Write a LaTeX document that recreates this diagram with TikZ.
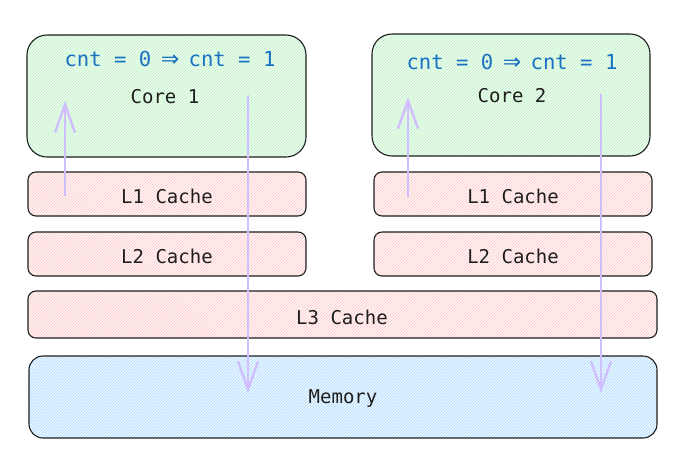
\documentclass[tikz,border=0pt]{standalone}
\usepackage{fontspec}
\setmonofont{DejaVu Sans Mono}
\newfontfamily\arrowfont{DejaVu Sans}
\usetikzlibrary{patterns,arrows.meta}
\definecolor{strokec}{HTML}{1E1E1E}
\definecolor{greenf}{HTML}{F1FCF3}
\definecolor{greenh}{HTML}{B2F2BB}
\definecolor{redf}{HTML}{FFF5F5}
\definecolor{redh}{HTML}{FFC9C9}
\definecolor{bluef}{HTML}{F0F8FF}
\definecolor{blueh}{HTML}{A5D8FF}
\definecolor{arrowc}{HTML}{D0BFFF}
\definecolor{textblue}{HTML}{1971C2}
\newcommand{\bigimp}{\makebox[12.4pt]{\arrowfont\fontsize{22}{22}\selectfont ⇒}}
\tikzset{
  box/.style={draw=strokec, line width=1.1pt},
  corebox/.style={box, rounded corners=20pt, preaction={fill=greenf}, pattern=north east lines, pattern color=greenh},
  cachebox/.style={box, rounded corners=8pt, preaction={fill=redf}, pattern=north east lines, pattern color=redh},
  membox/.style={box, rounded corners=14pt, preaction={fill=bluef}, pattern=north east lines, pattern color=blueh},
  lbl/.style={font=\ttfamily\fontsize{19}{22}\selectfont, text=strokec},
  cntlbl/.style={font=\ttfamily\fontsize{20.6}{24}\selectfont, text=textblue},
  flow/.style={draw=arrowc, line width=2.6pt, -{Straight Barb[length=28pt,width=20pt,line width=2.4pt]}},
}
\begin{document}
\begin{tikzpicture}[x=1pt,y=-1pt]
\useasboundingbox (0,0) rectangle (688,475);
% boxes
\draw[corebox] (27,35) rectangle (306,157);
\draw[corebox] (372,34) rectangle (650,156);
\draw[cachebox] (28,172) rectangle (306,216);
\draw[cachebox] (374,172) rectangle (652,216);
\draw[cachebox] (28,232) rectangle (306,276);
\draw[cachebox] (374,232) rectangle (652,276);
\draw[cachebox] (28,291) rectangle (657,338);
\draw[membox] (29,356) rectangle (657,438);
% labels
\node[cntlbl] (cnt1) at (170,59) {cnt = 0 \bigimp{} cnt = 1};
\node[cntlbl] (cnt2) at (512,62) {cnt = 0 \bigimp{} cnt = 1};
\node[lbl] (core1) at (165,97) {Core 1};
\node[lbl] (core2) at (512,96) {Core 2};
\node[lbl] (l1a) at (167,196) {L1 Cache};
\node[lbl] (l1b) at (513,196) {L1 Cache};
\node[lbl] (l2a) at (167,256) {L2 Cache};
\node[lbl] (l2b) at (513,256) {L2 Cache};
\node[lbl] (l3) at (342,317) {L3 Cache};
\node[lbl] (mem) at (343,399) {Memory};
% arrows
\coordinate (a1s) at (65,196);
\coordinate (a1e) at (65,101);
\coordinate (a2s) at (248,95);
\coordinate (a2e) at (248,393);
\coordinate (a3s) at (408,197);
\coordinate (a3e) at (408,97);
\coordinate (a4s) at (601,94);
\coordinate (a4e) at (601,393);
\draw[flow] (a1s) -- (a1e);
\draw[flow] (a2s) -- (a2e);
\draw[flow] (a3s) -- (a3e);
\draw[flow] (a4s) -- (a4e);
\end{tikzpicture}
\end{document}
